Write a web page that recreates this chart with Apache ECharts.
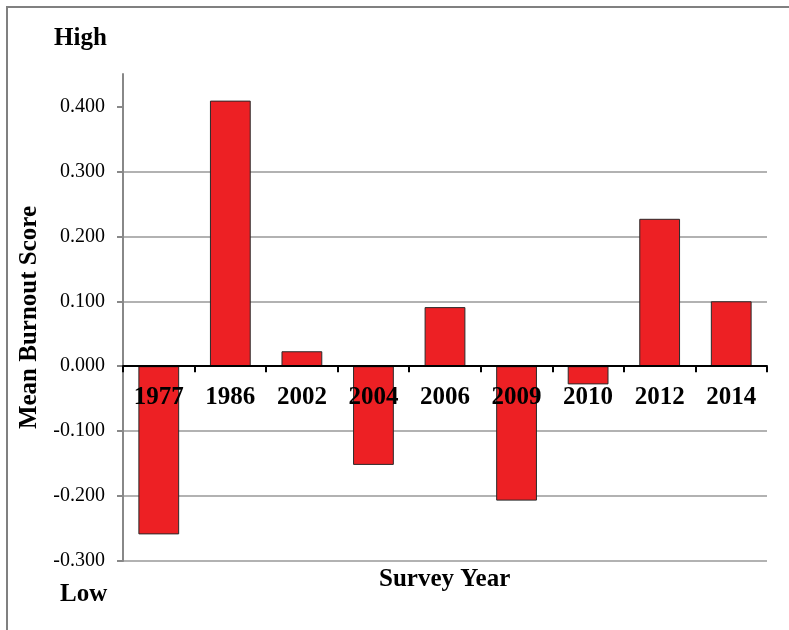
<!DOCTYPE html>
<html>
<head>
<meta charset="utf-8">
<script src="https://cdn.jsdelivr.net/npm/echarts@6/dist/echarts.min.js"></script>
<style>
  html, body { margin: 0; padding: 0; background: #ffffff; }
  #chart { width: 789px; height: 630px; }
</style>
</head>
<body>
<div id="chart"></div>
<script>
// Survey years and mean burnout scores
const years = ['1977', '1986', '2002', '2004', '2006', '2009', '2010', '2012', '2014'];
const burnout = [-0.259, 0.409, 0.023, -0.152, 0.091, -0.207, -0.028, 0.227, 0.100];
const yTicks = [-0.3, -0.2, -0.1, 0.0, 0.1, 0.2, 0.3, 0.4];

const yMin = -0.3, yMax = 0.45;
const gridBox = { left: 123, right: 22, top: 74, bottom: 69 };
const chartHeight = 630;
// Lift the category axis from the grid bottom up to the zero line
const plotHeight = chartHeight - gridBox.top - gridBox.bottom;
const zeroOffset = -plotHeight * (0 - yMin) / (yMax - yMin);

const serif = '"Liberation Serif", "Times New Roman", serif';
const chart = echarts.init(document.getElementById('chart'), null, { renderer: 'canvas' });

chart.setOption({
  backgroundColor: '#ffffff',
  animation: false,
  title: [
    { text: 'High', left: 54, top: 26, padding: 0,
      textStyle: { fontFamily: serif, fontSize: 25, fontWeight: 'bold', color: '#000' } },
    { text: 'Low', left: 60, top: 582, padding: 0,
      textStyle: { fontFamily: serif, fontSize: 25, fontWeight: 'bold', color: '#000' } },
    { text: 'Survey Year', left: 379, top: 567, padding: 0,
      textStyle: { fontFamily: serif, fontSize: 25, fontWeight: 'bold', color: '#000' } }
  ],
  graphic: [
    { type: 'polyline', silent: true,
      shape: { points: [[7, 640], [7, 7], [800, 7]] },
      style: { stroke: '#808080', lineWidth: 2, fill: null } }
  ],
  grid: Object.assign({ containLabel: false }, gridBox),
  xAxis: {
    type: 'category',
    data: years,
    z: 5,
    position: 'bottom',
    offset: zeroOffset,
    axisLine: { onZero: false, lineStyle: { color: '#000', width: 2 } },
    axisTick: { show: true, alignWithLabel: false, length: 6, lineStyle: { color: '#000', width: 2 } },
    axisLabel: { margin: 19, fontFamily: serif, fontSize: 25, fontWeight: 'bold', color: '#000' },
    splitLine: { show: false }
  },
  yAxis: {
    type: 'value',
    min: yMin,
    max: yMax,
    interval: 0.1,
    name: 'Mean Burnout Score',
    nameLocation: 'middle',
    nameGap: 80,
    nameTextStyle: { fontFamily: serif, fontSize: 25, fontWeight: 'bold', color: '#000' },
    axisLine: { show: true, lineStyle: { color: '#888888', width: 2 } },
    axisTick: { show: true, length: 6, customValues: yTicks, lineStyle: { color: '#888888', width: 2 } },
    axisLabel: {
      customValues: yTicks,
      margin: 18,
      fontFamily: serif, fontSize: 20, color: '#000',
      formatter: v => v.toFixed(3)
    },
    splitLine: { show: true, showMaxLine: false, lineStyle: { color: '#999999', width: 1.5 } }
  },
  series: [{
    type: 'bar',
    data: burnout,
    barCategoryGap: '43%',
    itemStyle: { color: '#ED2024', borderColor: '#2a2a2a', borderWidth: 1 }
  }]
});
</script>
</body>
</html>
